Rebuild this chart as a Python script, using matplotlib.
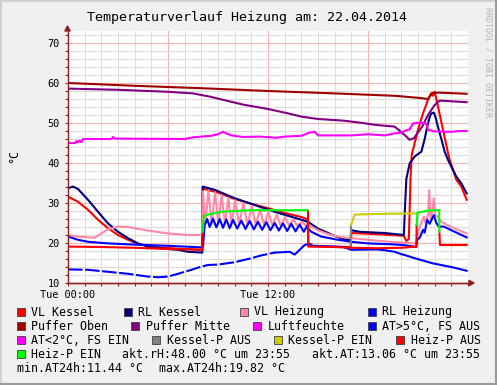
import numpy as np
import matplotlib.pyplot as plt
from matplotlib.patches import Rectangle, Polygon
from matplotlib.lines import Line2D

W, H = 497, 385
MONO = "DejaVu Sans Mono"
plt.rcParams["font.family"] = [MONO, "DejaVu Sans"]

nan = np.nan

# Stunden seit 00:00 / Wert
vl_kessel = [(0, 31.6), (0.6, 30.3), (1.2, 28.3), (1.8, 25.8), (2.4, 23.7), (3.0, 22.0),
             (3.6, 20.8), (4.2, 19.8), (4.8, 19.2), (5.5, 18.9), (6.5, 18.6), (7.5, 18.4),
             (8.05, 18.3), (8.08, 33.6), (9.0, 32.6), (10.0, 31.0), (11.0, 29.8), (12.0, 28.7),
             (13.0, 27.5), (14.0, 26.5), (14.38, 25.9), (14.42, 19.3), (15.5, 19.1), (16.97, 19.0),
             (17.0, 22.5), (18.5, 22.2), (20.15, 21.8), (20.3, 20.5), (20.45, 21.0), (20.55, 36.0),
             (20.62, 42.0), (21.0, 48.3), (21.3, 52.4), (21.6, 55.8), (21.78, 57.4), (21.9, 56.8),
             (22.0, 57.8), (22.2, 54.1), (22.5, 48.3), (22.8, 42.5), (22.9, 40.8), (23.3, 35.8),
             (23.6, 34.1), (23.92, 30.8)]

rl_kessel = [(0, 33.7), (0.3, 34.1), (0.6, 33.5), (1.2, 30.8), (1.8, 27.8), (2.4, 24.9),
             (3.0, 22.8), (3.6, 21.2), (4.2, 19.9), (4.8, 19.1), (5.4, 18.7), (6.0, 18.5),
             (6.6, 18.3), (7.2, 17.8), (8.06, 17.6), (8.08, 34.1), (8.8, 33.3), (10.0, 31.2),
             (11.2, 29.5), (12.4, 27.8), (13.6, 26.3), (14.4, 25.3), (15.0, 23.6), (15.5, 22.7),
             (16.0, 21.8), (16.5, 21.0), (16.96, 20.7), (16.99, 23.2), (17.5, 22.8), (19.0, 22.5),
             (20.15, 22.0), (20.22, 29.0), (20.3, 36.0), (20.5, 39.9), (20.8, 41.6), (21.05, 42.4),
             (21.2, 42.8), (21.4, 46.0), (21.55, 49.0), (21.7, 51.5), (21.8, 52.4), (21.95, 52.6),
             (22.05, 51.5), (22.2, 49.0), (22.4, 46.0), (22.6, 42.8), (22.8, 40.8), (23.0, 39.1),
             (23.3, 36.6), (23.6, 34.9), (23.92, 32.4)]

vl_heizung = [(0, 22.0), (0.6, 21.6), (1.6, 21.3), (2.0, 22.4), (2.4, 23.4), (3.0, 24.1),
              (3.6, 24.0), (4.8, 23.1), (6.0, 22.4), (7.2, 22.0), (8.05, 22.0), (8.09, 33.0),
              (8.25, 24.8), (8.42, 33.2), (8.62, 24.8), (8.82, 32.7), (9.02, 24.7), (9.22, 32.0),
              (9.42, 24.7), (9.62, 31.3), (9.82, 24.6), (10.02, 30.7), (10.27, 24.6), (10.52, 29.9),
              (10.77, 24.5), (11.02, 29.3), (11.27, 24.5), (11.52, 28.5), (11.77, 24.4), (12.02, 27.8),
              (12.27, 24.4), (12.52, 27.1), (12.77, 24.3), (13.02, 26.5), (13.27, 24.3), (13.52, 25.9),
              (13.77, 24.2), (14.02, 25.3), (14.25, 24.4), (14.45, 24.6), (14.6, 24.1), (15.0, 23.2),
              (15.5, 22.4), (16.0, 21.8), (16.5, 21.4), (17.0, 21.2), (18.0, 20.8), (19.3, 20.3),
              (20.8, 19.9), (20.9, 20.3), (21.0, 22.4), (21.15, 24.5), (21.35, 26.6), (21.45, 25.0),
              (21.6, 27.0), (21.67, 33.2), (21.75, 26.0), (21.88, 28.5), (21.95, 31.2), (22.05, 27.0),
              (22.2, 26.5), (22.4, 25.3), (23.0, 24.0), (23.92, 22.4)]

rl_heizung = [(0, 21.6), (0.6, 20.8), (1.2, 20.3), (2.4, 19.9), (4.0, 19.6), (6.0, 19.3),
              (8.05, 18.9), (8.1, 19.0), (8.2, 24.5), (8.35, 26.0), (8.5, 24.0), (8.7, 26.1),
              (8.9, 23.9), (9.1, 26.0), (9.3, 23.8), (9.5, 25.9), (9.7, 23.7), (9.9, 25.8),
              (10.15, 23.6), (10.4, 25.6), (10.65, 23.5), (10.9, 25.5), (11.15, 23.4), (11.4, 25.3),
              (11.65, 23.3), (11.9, 25.2), (12.15, 23.2), (12.4, 25.0), (12.65, 23.1), (12.9, 24.9),
              (13.15, 23.0), (13.4, 24.8), (13.65, 22.9), (13.9, 24.6), (14.15, 22.8), (14.35, 24.3),
              (14.45, 23.4), (14.6, 22.8), (15.2, 21.6), (16.2, 20.8), (17.0, 20.3), (18.0, 19.9),
              (19.3, 19.7), (20.1, 19.5), (20.9, 19.0), (20.95, 20.8), (21.1, 21.3), (21.3, 23.3),
              (21.4, 22.6), (21.55, 25.8), (21.7, 24.8), (21.95, 27.0), (22.1, 25.0), (22.25, 24.1),
              (22.55, 24.1), (23.0, 23.2), (23.92, 21.4)]

puffer_oben = [(0, 60.0), (4, 59.3), (8, 58.7), (12, 58.0), (16, 57.4), (19.6, 56.8),
               (21.0, 56.3), (21.6, 56.0), (21.85, 57.5), (22.2, 57.6), (23.92, 57.3)]

puffer_mitte = [(0, 58.6), (3, 58.3), (6, 57.8), (7.5, 57.4), (8.5, 56.6), (9.5, 55.6),
                (10.5, 54.6), (12, 53.5), (13, 52.6), (14, 51.6), (15, 51.0), (16.5, 50.6),
                (17.5, 50.1), (18.5, 49.5), (19.6, 49.1), (20.2, 47.0), (20.5, 45.8), (20.75, 46.2),
                (21.25, 49.1), (21.6, 52.0), (22.0, 54.5), (22.3, 55.6), (23.92, 55.2)]

luftfeuchte = [(0, 45.0), (0.45, 45.0), (0.5, 45.5), (0.6, 45.2), (0.7, 45.6), (0.8, 45.2),
               (0.9, 46.0), (2.6, 46.0), (2.7, 46.5), (2.8, 46.1), (7.0, 46.0), (7.5, 46.4),
               (8.0, 46.6), (8.6, 46.8), (9.0, 47.2), (9.3, 47.8), (9.5, 47.4), (9.8, 46.9),
               (10.5, 46.5), (11.5, 46.6), (12.5, 46.3), (13.0, 46.6), (14.0, 46.8), (14.5, 47.6),
               (14.8, 47.8), (15.0, 46.9), (17.0, 46.9), (18.0, 47.2), (19.0, 46.9), (19.6, 47.4),
               (20.0, 47.6), (20.3, 48.2), (20.5, 48.4), (20.7, 49.9), (21.2, 50.1), (21.5, 49.8),
               (21.6, 48.3), (22.0, 47.9), (23.0, 47.8), (23.5, 48.0), (23.92, 48.0)]

aussen = [(0, 13.4), (1.2, 13.3), (2.4, 12.8), (3.6, 12.3), (4.8, 11.6), (5.4, 11.44),
          (6.0, 11.6), (6.6, 12.3), (7.4, 13.3), (8.0, 14.1), (8.4, 14.5), (9.0, 14.6),
          (10.0, 15.2), (11.0, 16.2), (11.6, 16.9), (12.4, 17.6), (13.3, 17.8), (13.6, 17.1),
          (14.2, 19.5), (14.5, 19.82), (14.7, 19.3), (15.5, 19.2), (16.5, 19.0), (17.0, 18.3),
          (18.5, 18.4), (19.0, 18.2), (19.6, 17.8), (20.0, 17.2), (20.2, 17.0), (20.8, 16.2),
          (21.9, 14.9), (23.1, 13.9), (23.92, 13.06)]

kessel_p_aus = [(16.97, 19.1), (16.98, 24.5)]
kessel_p_ein = [(16.98, 24.5), (17.2, 27.1), (19.0, 27.3), (20.97, 27.4)]
heiz_p_aus = [(0, 19.1), (2, 19.0), (4, 18.8), (6, 18.5), (8.05, 18.3), (8.08, 22.8),
              (8.09, nan), (14.4, 28.1), (14.42, 19.1), (16, 19.0), (17, 18.8), (18.5, 18.7),
              (20, 18.8), (20.9, 19.1), (20.92, 24.5), (20.93, nan), (22.28, 22.8),
              (22.32, 19.5), (23.92, 19.5)]
heiz_p_ein = [(8.08, 22.8), (8.15, 26.6), (8.3, 27.0), (9.2, 27.8), (11.0, 28.2), (14.38, 28.2),
              (14.39, nan), (20.92, 24.5), (20.97, 27.6), (21.6, 28.1), (22.27, 28.25), (22.28, 22.8)]

series = [
    ("VL Kessel", "#FF0000", vl_kessel),
    ("RL Kessel", "#000080", rl_kessel),
    ("VL Heizung", "#FF88A8", vl_heizung),
    ("RL Heizung", "#0000FF", rl_heizung),
    ("Puffer Oben", "#A00000", puffer_oben),
    ("Puffer Mitte", "#800080", puffer_mitte),
    ("Luftfeuchte", "#FF00FF", luftfeuchte),
    ("AT>5°C, FS AUS", "#0000FF", aussen),
    ("AT<2°C, FS EIN", "#FF00FF", []),
    ("Kessel-P AUS", "#808080", kessel_p_aus),
    ("Kessel-P EIN", "#CCCC00", kessel_p_ein),
    ("Heiz-P AUS", "#FF0000", heiz_p_aus),
    ("Heiz-P EIN", "#00FF00", heiz_p_ein),
]


def fx(x):
    return x / W


def fy(y):
    return 1 - y / H


fig = plt.figure(figsize=(W / 100, H / 100), dpi=100, facecolor="#F0F0F0")

# Rahmen
fig.add_artist(Rectangle((0, 0), 1, 1, transform=fig.transFigure, fill=False,
                         edgecolor="#CFCFCF", lw=2))
fig.add_artist(Line2D([fx(W - 1.5)] * 2, [0, 1], transform=fig.transFigure, color="#9A9A9A", lw=2.2))
fig.add_artist(Line2D([0, 1], [fy(H - 1.5)] * 2, transform=fig.transFigure, color="#9A9A9A", lw=2.2))

ax = fig.add_axes([fx(68), fy(283), 400 / W, 252 / H])
ax.set_facecolor("white")
ax.set_xlim(0, 24)
ax.set_ylim(10, 73)

ax.set_xticks([0, 6, 12, 18, 24])
ax.set_xticklabels(["Tue 00:00", "", "Tue 12:00", "", ""])
ax.set_xticks(np.arange(0, 25, 1), minor=True)
ax.set_yticks(np.arange(10, 71, 10))
ax.set_yticks(np.arange(10, 73, 2), minor=True)
ax.grid(which="minor", color="#DCDCDC", lw=0.75)
ax.grid(which="major", color="#F6B0B0", lw=0.75)
ax.set_axisbelow(True)

axis_col = "#902020"
for s in ("top", "right"):
    ax.spines[s].set_visible(False)
for s in ("left", "bottom"):
    ax.spines[s].set_color(axis_col)
    ax.spines[s].set_linewidth(1.0)
ax.tick_params(which="both", direction="out", length=2, color=axis_col, width=0.8)
ax.tick_params(axis="x", which="major", pad=3.2, labelsize=7.4)
ax.tick_params(axis="y", which="major", pad=4.0, labelsize=7.4)

# Pfeile an den Achsen
fig.add_artist(Polygon([(fx(64.8), fy(31)), (fx(70.2), fy(31)), (fx(67.5), fy(26))],
                       closed=True, transform=fig.transFigure, color=axis_col))
fig.add_artist(Line2D([fx(68), fx(470)], [fy(283)] * 2, transform=fig.transFigure, color=axis_col, lw=1.0))
fig.add_artist(Polygon([(fx(469), fy(280.3)), (fx(469), fy(285.7)), (fx(474), fy(283))],
                       closed=True, transform=fig.transFigure, color=axis_col))

for name, col, pts in series:
    if not pts:
        continue
    t, v = np.array(pts, dtype=float).T
    if name.startswith("AT>5"):
        early = t <= 12.4
        late = t >= 12.4
        ax.plot(t[early], v[early], color=col, lw=1.5, ls=(0, (7, 1.2)), solid_capstyle="butt")
        ax.plot(t[late], v[late], color=col, lw=1.5)
    else:
        ax.plot(t, v, color=col, lw=1.5)

# Texte
fig.text(fx(247), fy(20.7), "Temperaturverlauf Heizung am: 22.04.2014", ha="center",
         va="baseline", fontsize=9.6)
fig.text(fx(14), fy(156), "°C", rotation=90, ha="center", va="center", fontsize=8.4)
fig.text(fx(488), fy(7), "RRDTOOL / TOBI OETIKER", rotation=-90, ha="center", va="top",
         fontsize=6.0, color="#B4B4B4")

# Legende
colors = {name: col for name, col, _ in series}
legend_rows = [
    (315.5, [("VL Kessel", 31), ("RL Kessel", 138.3), ("VL Heizung", 254), ("RL Heizung", 382.3)]),
    (329.5, [("Puffer Oben", 31), ("Puffer Mitte", 145.7), ("Luftfeuchte", 267.3), ("AT>5°C, FS AUS", 382.3)]),
    (343.5, [("AT<2°C, FS EIN", 31), ("Kessel-P AUS", 166.7), ("Kessel-P EIN", 288.3), ("Heiz-P AUS", 410.7)]),
    (357.5, [("Heiz-P EIN", 31)]),
]
for base, items in legend_rows:
    for label, tx in items:
        fig.add_artist(Rectangle((fx(tx - 14.5), fy(base)), 8 / W, 8 / H, transform=fig.transFigure,
                                 facecolor=colors[label], edgecolor="#404040", lw=0.6))
        fig.text(fx(tx), fy(base), label, va="baseline", fontsize=8.4)

fig.text(fx(122.5), fy(357.5), "akt.rH:48.00 °C um 23:55", va="baseline", fontsize=8.4)
fig.text(fx(312), fy(357.5), "akt.AT:13.06 °C um 23:55", va="baseline", fontsize=8.4)
fig.text(fx(16.7), fy(371.5), "min.AT24h:11.44 °C", va="baseline", fontsize=8.4)
fig.text(fx(159), fy(371.5), "max.AT24h:19.82 °C", va="baseline", fontsize=8.4)

fig.savefig("out.png", dpi=100, facecolor=fig.get_facecolor())
